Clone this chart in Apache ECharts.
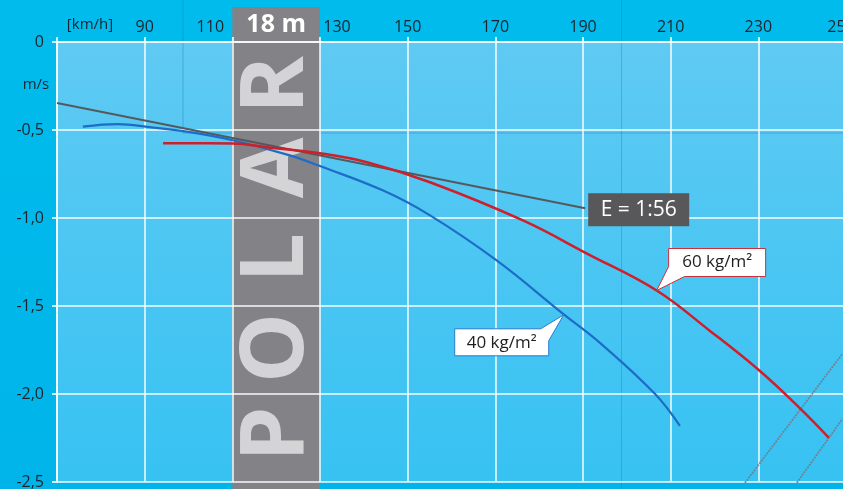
<!DOCTYPE html>
<html>
<head>
<meta charset="utf-8">
<script src="https://cdn.jsdelivr.net/npm/echarts@6/dist/echarts.min.js"></script>
<style>
  html, body { margin: 0; padding: 0; background: #00b9ec; }
  #chart { width: 843px; height: 489px; }
</style>
</head>
<body>
<div id="chart"></div>
<script>
// 数据
var speedTicks = [70, 90, 110, 130, 150, 170, 190, 210, 230, 250];
var sinkTicks = [0, -0.5, -1.0, -1.5, -2.0, -2.5];

// 40 kg/m2 极曲线
var blueSpeed = [75.9, 83.9, 91.2, 100.3, 110.1, 123.1, 130.0, 144.3, 155.1, 170.3, 185.4, 193.8, 206.4, 212.1];
var blueSink  = [-0.481, -0.467, -0.484, -0.512, -0.558, -0.644, -0.705, -0.843, -0.985, -1.241, -1.543, -1.708, -1.999, -2.181];

// 60 kg/m2 极曲线
var redSpeed = [94.2, 110.1, 117.9, 130.0, 140.7, 155.1, 176.3, 190.9, 206.8, 218.9, 230.3, 239.4, 246.1];
var redSink  = [-0.575, -0.577, -0.598, -0.632, -0.683, -0.797, -1.014, -1.202, -1.412, -1.640, -1.868, -2.079, -2.249];

// 滑翔比 E = 1:56 切线
var tangentSpeed = [70, 190.5];
var tangentSink  = [-0.347, -0.945];

// 右下角的灰色斜线
var diag1Speed = [225.7, 249.2];
var diag1Sink  = [-2.546, -1.771];
var diag2Speed = [237.6, 249.2];
var diag2Sink  = [-2.546, -2.141];

// 标注位置（曲线上的点）
var blueNote = [185.6, -1.55];
var redNote = [206.8, -1.412];

function zip(a, b) {
    return a.map(function (v, i) { return [v, b[i]]; });
}

var myChart = echarts.init(document.getElementById('chart'));
var font = '"Open Sans", "Noto Sans", sans-serif';

option = {
    animation: false,
    backgroundColor: '#00b9ec',
    grid: {
        left: 57,
        right: -3,
        top: 42,
        bottom: 7,
        outerBoundsMode: 'none',
        containLabel: false
    },
    xAxis: {
        type: 'value',
        position: 'top',
        min: speedTicks[0],
        max: speedTicks[speedTicks.length - 1],
        interval: 20,
        axisLine: { show: true, lineStyle: { color: '#ffffff', width: 1.5 } },
        axisTick: { show: true, length: 5, lineStyle: { color: 'rgba(255,255,255,0.8)', width: 2 } },
        axisLabel: {
            margin: 7,
            color: '#1b2530',
            fontSize: 16,
            fontFamily: font,
            formatter: function (value) {
                if (value === 70) return '';
                if (value === 110) return '{l|110}';
                if (value === 130) return '{r|130}';
                if (value === 250) return '{e|250}';
                return value;
            },
            rich: {
                l: { color: '#1b2530', fontSize: 16, fontFamily: font, padding: [0, 44, 0, 0] },
                r: { color: '#1b2530', fontSize: 16, fontFamily: font, padding: [0, 0, 0, 34] },
                e: { color: '#1b2530', fontSize: 16, fontFamily: font, padding: [0, 10, 0, 0] }
            }
        },
        splitLine: { show: true, lineStyle: { color: 'rgba(255,255,255,0.95)', width: 1.5 } }
    },
    yAxis: {
        type: 'value',
        min: sinkTicks[sinkTicks.length - 1],
        max: sinkTicks[0],
        interval: 0.5,
        axisLine: { show: true, lineStyle: { color: '#ffffff', width: 1.5 } },
        axisTick: { show: true, length: 5, lineStyle: { color: 'rgba(255,255,255,0.8)', width: 2 } },
        axisLabel: {
            margin: 13,
            color: '#1b2530',
            fontSize: 16,
            fontFamily: font,
            formatter: function (value) {
                if (value === 0) return '0';
                return value.toFixed(1).replace('.', ',');
            }
        },
        splitLine: { show: true, lineStyle: { color: 'rgba(255,255,255,0.95)', width: 1.5 } }
    },
    series: [
        {
            name: 'diag1',
            type: 'line',
            data: zip(diag1Speed, diag1Sink),
            symbol: 'none',
            silent: true,
            lineStyle: { color: 'rgba(115,125,140,0.9)', width: 1.8, type: [2, 1] },
            z: 1
        },
        {
            name: 'diag2',
            type: 'line',
            data: zip(diag2Speed, diag2Sink),
            symbol: 'none',
            silent: true,
            lineStyle: { color: 'rgba(115,125,140,0.9)', width: 1.8, type: [2, 1] },
            z: 1
        },
        {
            name: 'E = 1:56',
            type: 'line',
            data: zip(tangentSpeed, tangentSink),
            symbol: 'none',
            lineStyle: { color: '#56595c', width: 2 },
            z: 3
        },
        {
            name: '40 kg/m²',
            type: 'line',
            data: zip(blueSpeed, blueSink),
            symbol: 'none',
            smooth: 0.4,
            lineStyle: { color: '#1c6dc6', width: 2.2 },
            z: 4
        },
        {
            name: '60 kg/m²',
            type: 'line',
            data: zip(redSpeed, redSink),
            symbol: 'none',
            smooth: 0.4,
            lineStyle: { color: '#d01e2a', width: 2.5 },
            z: 5
        }
    ]
};

// 使用刚指定的配置项和数据显示图表。
myChart.setOption(option);

// 装饰：背景、POLAR 竖条、标注框
function px(v, w) {
    return myChart.convertToPixel({ gridIndex: 0 }, [v, w]);
}

var p0 = px(speedTicks[0], sinkTicks[0]);
var p1 = px(speedTicks[speedTicks.length - 1], sinkTicks[sinkTicks.length - 1]);
var bx0 = px(110, 0)[0];
var bx1 = px(130, 0)[0];
var bxc = (bx0 + bx1) / 2;

var graphics = [
    {
        type: 'rect',
        z: -20,
        shape: { x: 0, y: 0, width: 843, height: 489 },
        style: {
            fill: new echarts.graphic.LinearGradient(0, 0, 0, 1, [
                { offset: 0, color: '#00bced' },
                { offset: 1, color: '#00b4e9' }
            ])
        }
    },
    {
        type: 'rect',
        z: -15,
        shape: { x: p0[0], y: p0[1], width: p1[0] - p0[0], height: p1[1] - p0[1] },
        style: {
            fill: new echarts.graphic.LinearGradient(0, 0, 0, 1, [
                { offset: 0, color: '#5fcaf3' },
                { offset: 1, color: '#37c2f2' }
            ])
        }
    },
    // 背景里的暗线
    {
        type: 'polyline', z: -12,
        shape: { points: [[183, 0], [183, 133], [843, 133]] },
        style: { stroke: 'rgba(20,110,170,0.35)', lineWidth: 1, fill: null }
    },
    {
        type: 'line', z: -12,
        shape: { x1: 621.5, y1: 0, x2: 621.5, y2: 489 },
        style: { stroke: 'rgba(20,110,170,0.3)', lineWidth: 1 }
    },
    // 灰色竖条
    {
        type: 'rect',
        z: -10,
        shape: { x: bx0, y: 7, width: bx1 - bx0, height: 489 - 7 },
        style: { fill: '#838387' }
    },
    {
        type: 'text',
        z: 6,
        x: bxc,
        y: 25,
        style: {
            text: '18 m',
            fill: '#ffffff',
            font: 'bold 25px ' + font,
            align: 'center',
            verticalAlign: 'middle'
        }
    },
    // 坐标轴单位
    {
        type: 'text', z: 6, x: 90, y: 25,
        style: { text: '[km/h]', fill: '#1b2530', font: '15px ' + font, align: 'center', verticalAlign: 'middle' }
    },
    {
        type: 'text', z: 6, x: 36, y: 85,
        style: { text: 'm/s', fill: '#1b2530', font: '15px ' + font, align: 'center', verticalAlign: 'middle' }
    }
];

// POLAR 竖排文字
var letters = ['P', 'O', 'L', 'A', 'R'];
var letterY = [434, 348, 258, 168, 85];
letters.forEach(function (ch, i) {
    graphics.push({
        type: 'text',
        z: -9,
        x: bxc + 2,
        y: letterY[i],
        rotation: Math.PI / 2,
        style: {
            text: ch,
            fill: '#d4d4d6',
            font: 'bold 88px ' + font,
            align: 'center',
            verticalAlign: 'middle'
        }
    });
});

// E = 1:56 标签
var te = px(tangentSpeed[1], tangentSink[1]);
graphics.push({
    type: 'rect', z: 8,
    shape: { x: te[0] + 3, y: te[1] - 15, width: 101, height: 33 },
    style: { fill: '#58585a' }
});
graphics.push({
    type: 'text', z: 9,
    x: te[0] + 3 + 50.5, y: te[1] + 1.5,
    style: { text: 'E = 1:56', fill: '#ffffff', font: '21px ' + font, align: 'center', verticalAlign: 'middle' }
});

// 60 kg/m² 标注
var rn = px(redNote[0], redNote[1]);
var rx = rn[0] + 12, ry = rn[1] - 42;
graphics.push({
    type: 'polygon', z: 8,
    shape: { points: [[rx, ry], [rx + 97, ry], [rx + 97, ry + 28], [rx + 16, ry + 28], [rn[0], rn[1]], [rx, ry + 18]] },
    style: { fill: '#ffffff', stroke: '#c8303a', lineWidth: 1 }
});
graphics.push({
    type: 'text', z: 9,
    x: rx + 48.5, y: ry + 14,
    style: { text: '60 kg/m²', fill: '#1e1e1e', font: '17px ' + font, align: 'center', verticalAlign: 'middle' }
});

// 40 kg/m² 标注
var bn = px(blueNote[0], blueNote[1]);
var lx = bn[0] - 109, ly = bn[1] + 14;
graphics.push({
    type: 'polygon', z: 8,
    shape: { points: [[lx, ly], [lx + 86, ly], [bn[0], bn[1]], [lx + 94, ly + 12], [lx + 94, ly + 27], [lx, ly + 27]] },
    style: { fill: '#ffffff', stroke: '#2a7bd0', lineWidth: 1 }
});
graphics.push({
    type: 'text', z: 9,
    x: lx + 47, y: ly + 14,
    style: { text: '40 kg/m²', fill: '#1e1e1e', font: '17px ' + font, align: 'center', verticalAlign: 'middle' }
});

myChart.setOption({ graphic: graphics });
</script>
</body>
</html>
